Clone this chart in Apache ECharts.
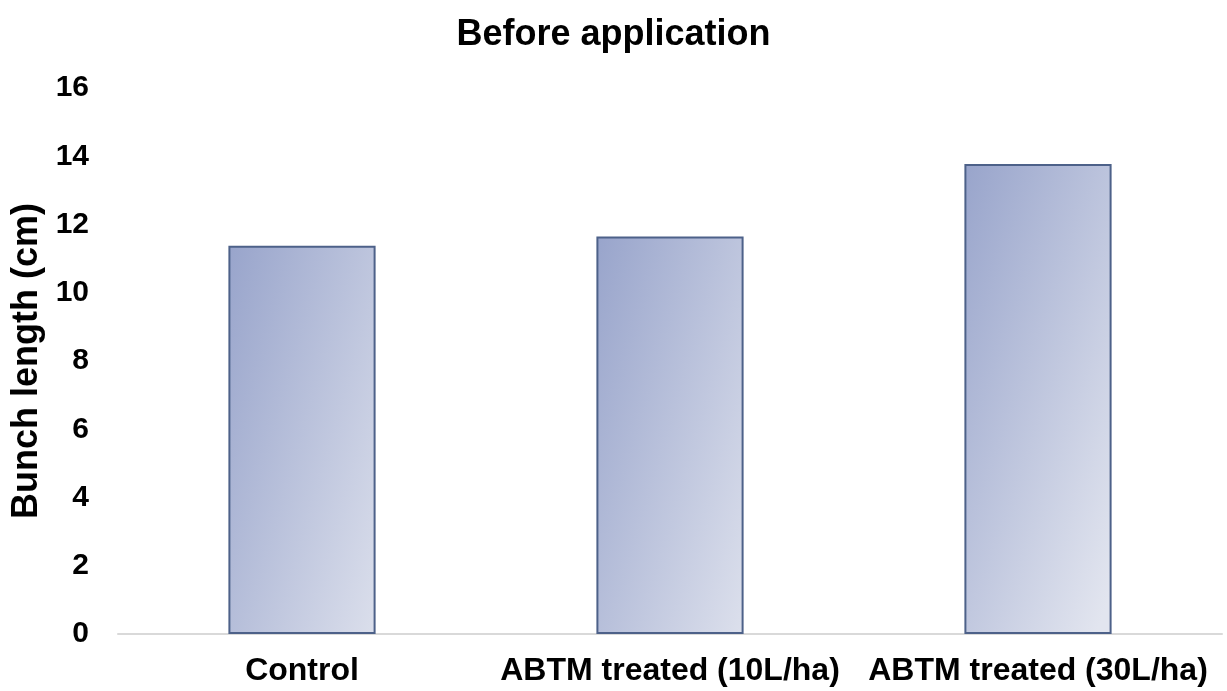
<!DOCTYPE html>
<html><head><meta charset="utf-8">
<script src="https://cdn.jsdelivr.net/npm/echarts@6/dist/echarts.min.js"></script>
<style>html,body{margin:0;padding:0;background:#fff}#c{width:1227px;height:691px}</style>
</head><body><div id="c"></div>
<script>
const categories = ['Control', 'ABTM treated (10L/ha)', 'ABTM treated (30L/ha)'];
const bunchLength = [11.38, 11.65, 13.77];
const yTicks = {min: 0, max: 16, interval: 2};

const chart = echarts.init(document.getElementById('c'));
const font = '"Liberation Sans", Arial, sans-serif';
chart.setOption({
  animation: false,
  backgroundColor: '#fff',
  title: {text: 'Before application', left: 'center', top: 12,
    textStyle: {fontFamily: font, fontWeight: 'bold', fontSize: 36, color: '#000'}},
  grid: {left: 118, right: 5, top: 88, bottom: 57},
  xAxis: {type: 'category', data: categories,
    axisLine: {lineStyle: {color: '#d9d9d9', width: 2}},
    axisTick: {show: false},
    axisLabel: {interval: 0, fontFamily: font, fontWeight: 'bold', fontSize: 32, color: '#000', margin: 21}},
  yAxis: {type: 'value', min: yTicks.min, max: yTicks.max, interval: yTicks.interval,
    name: 'Bunch length (cm)', nameLocation: 'middle', nameGap: 73, nameRotate: 90,
    nameTextStyle: {fontFamily: font, fontWeight: 'bold', fontSize: 36, color: '#000'},
    axisLine: {show: false}, axisTick: {show: false}, splitLine: {show: false},
    axisLabel: {fontFamily: font, fontWeight: 'bold', fontSize: 30, color: '#000', margin: 29}},
  series: [{type: 'bar', data: bunchLength, barWidth: '40%',
    itemStyle: {
      borderColor: '#4d6189', borderWidth: 2,
      color: new echarts.graphic.LinearGradient(0, 0, 1.8, 0.2, [
        {offset: 0, color: '#98a4cb'}, {offset: 1, color: '#e2e5ef'}])
    }}]
});
</script></body></html>
